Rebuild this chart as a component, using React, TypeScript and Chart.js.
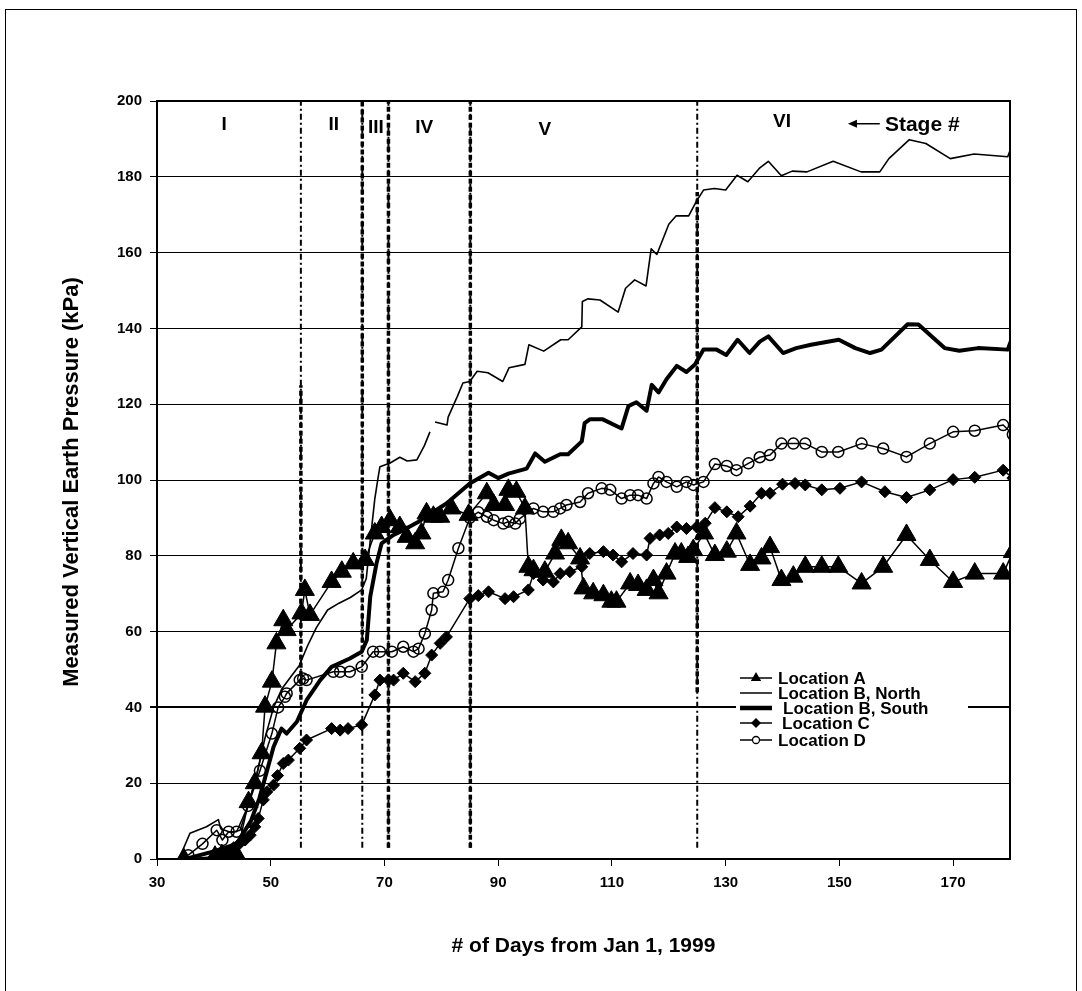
import React, { useEffect, useRef } from 'react';
import { Chart, registerables } from 'chart.js';
Chart.register(...registerables);

const FONT = '"Liberation Sans", Arial, Helvetica, sans-serif';

// ---- axes ----
const xTickValues = [30, 50, 70, 90, 110, 130, 150, 170];
const xMin = 30;
const xMax = 180;
const yMin = 0;
const yMax = 200;
const yStep = 20;

// ---- Location A (triangles) ----
const locADays = [34.7, 40.2, 41.4, 42.6, 44, 46.1, 47.2, 48.4, 49, 50.2, 51, 52.2, 52.8, 55.4, 56, 56.9, 60.7, 62.5, 64.5, 66.6, 68.3, 69.5, 71, 72.7, 73.9, 75.4, 76.5, 77.4, 78.6, 79.8, 81.8, 84.8, 88, 89.2, 91.2, 91.8, 93.2, 94.7, 95.3, 96.2, 98.2, 100, 101.1, 102.3, 104.4, 105, 106.7, 108.5, 109.9, 110.8, 113.2, 114.6, 116.1, 117.3, 118.2, 119.6, 121.1, 122.2, 123.4, 124.3, 126.2, 128.1, 130.2, 131.9, 134.3, 136.3, 137.8, 139.8, 141.9, 144, 146.9, 149.8, 153.9, 157.7, 161.8, 165.9, 170, 173.8, 178.8, 180.5];
const locAKpa = [0, 0.6, 1, 0.6, 1, 15, 20, 27.9, 40.2, 46.8, 56.9, 63, 60.4, 64.8, 71, 64.4, 73.1, 75.8, 78, 78.9, 85.9, 87.6, 89.4, 87.6, 85, 83.3, 85.9, 91.2, 90.3, 90.3, 92.5, 90.8, 96.5, 93.4, 93.4, 97.4, 96.9, 92.5, 77.1, 76.2, 75.8, 80.6, 84.2, 83.3, 79.3, 71.4, 70.1, 69.6, 67.9, 67.9, 72.7, 72.3, 71, 73.6, 70.1, 75.3, 80.6, 80.6, 79.7, 81.5, 85.9, 80.2, 81.1, 85.9, 77.6, 79.3, 82.3, 73.6, 74.5, 77.1, 77.1, 77.1, 72.7, 77.1, 85.5, 78.9, 73.1, 75.3, 75.3, 81];

// ---- Location B, North (thin line) ----
const locBNDays = [34, 35.8, 38.7, 40.8, 41.2, 43, 44.6, 46, 47.5, 49, 50.5, 52, 53.5, 55, 56.4, 58, 60, 62, 64, 66, 66.8, 67.5, 68.3, 68.9, 69.2, 71, 72.7, 74, 75.7, 77, 78, 78.4, 78.9, 81, 81.2, 82.8, 83.8, 85, 86.3, 88.2, 90.8, 91.9, 94.7, 95.4, 98, 101, 102.3, 104.7, 104.8, 105.8, 107.9, 111.1, 112.4, 114, 116, 116.9, 117.9, 120, 121.3, 123.5, 124.8, 126.1, 128, 130, 132, 133.9, 135.9, 137.5, 139.8, 141.7, 144.3, 148.9, 153.8, 157.1, 158.7, 162.3, 165.2, 169.5, 173.7, 179.6, 180.5];
const locBNKpa = [0.5, 6.8, 8.5, 10.4, 8, 7, 7.6, 14, 22, 32, 40, 45, 48, 51, 56, 61, 65.7, 67.5, 69, 71, 74, 84, 95, 100.8, 103.5, 104.5, 106, 105, 105.3, 109, 112.7, null, 115.3, 114.5, 116.6, 122, 125.6, 126, 128.7, 128.3, 126, 129.6, 130.5, 135.7, 134, 137, 137, 140.4, 147.1, 147.8, 147.5, 144.3, 150.6, 152.8, 151.2, 161, 159.5, 167.5, 169.7, 169.7, 173.4, 176.5, 176.9, 176.5, 180.4, 178.7, 182.2, 184.1, 180.3, 181.5, 181.3, 184.1, 181.3, 181.3, 184.8, 189.8, 188.8, 184.8, 186, 185.3, 189];

// ---- Location B, South (thick line) ----
const locBSDays = [35, 40, 44, 46.5, 48, 49, 50.5, 51.9, 52.8, 54.6, 56.3, 58.7, 60.7, 63.9, 66, 66.9, 67.5, 68.6, 69.5, 71.6, 72.7, 76, 78.5, 80.9, 85, 88.3, 90, 91.8, 95, 96.5, 98.2, 100.9, 102.3, 104.7, 105.2, 106.1, 108.4, 111.7, 112.9, 114.3, 116.1, 117, 118.2, 119.6, 121.4, 123.1, 124.6, 126.1, 128.4, 130.1, 132.1, 134.2, 136, 137.5, 140.1, 142.4, 145, 149.9, 152.8, 155.4, 157.4, 162, 163.9, 168.5, 171.1, 174.4, 179.6, 180.5];
const locBSKpa = [0, 2, 4, 10, 16, 21.4, 29.6, 34.4, 33.1, 36.2, 41.9, 47.2, 50.7, 52.9, 54.7, 57.8, 69.2, 78, 83.3, 85.5, 86.3, 89, 91.5, 93.8, 99.1, 101.9, 100.5, 101.7, 103, 107, 104.8, 106.8, 106.8, 110.2, 115, 116, 116, 113.6, 119.5, 120.5, 118.3, 125.1, 123.1, 126.6, 130.1, 128.5, 130.5, 134.4, 134.4, 133, 137, 133.5, 136.5, 137.9, 133.5, 134.8, 135.7, 137, 134.8, 133.5, 134.4, 141.1, 141, 134.8, 134.1, 134.8, 134.4, 138];

// ---- Location C (diamonds) ----
const locCDays = [40, 42, 43.5, 44.5, 45.5, 46.4, 47.2, 47.8, 48.7, 49.3, 50.5, 51.2, 52.2, 53.1, 55.1, 56.3, 60.7, 62.2, 63.6, 66, 68.3, 69.2, 70.7, 71.6, 73.3, 75.4, 77.1, 78.3, 79.8, 80.9, 85, 86.5, 88.3, 91.2, 92.7, 95.3, 96.2, 97.9, 99.7, 100.9, 102.6, 104.7, 106.1, 108.5, 110.2, 111.7, 113.7, 116.1, 116.7, 118.4, 119.9, 121.4, 123.1, 124.9, 126.4, 128.1, 130.2, 132.2, 134.3, 136.3, 137.8, 140, 142.2, 144, 146.9, 150.1, 153.9, 158, 161.8, 165.9, 170, 173.8, 178.8, 180.5];
const locCKpa = [0.5, 1, 3, 4, 5, 6.3, 8.5, 10.7, 15.6, 17.7, 19.5, 22, 25.2, 26.1, 29.2, 31.4, 34.4, 34, 34.4, 35.4, 43.3, 47.2, 47.2, 47.2, 49, 46.8, 49, 53.8, 56.9, 58.6, 68.7, 69.5, 70.5, 68.7, 69.2, 71, 75.3, 73.6, 73.1, 75.3, 75.8, 77.1, 80.6, 81.1, 80.2, 78.4, 80.6, 80.2, 84.6, 85.5, 85.9, 87.6, 87.2, 87.6, 88.6, 92.7, 91.6, 90.3, 93.1, 96.5, 96.5, 98.9, 99.1, 98.7, 97.4, 97.8, 99.5, 96.9, 95.4, 97.4, 100.1, 100.7, 102.6, 100.5];

// ---- Location D (open circles) ----
const locDDays = [35.5, 38, 40.5, 41.5, 42.6, 44, 46, 48.1, 50.2, 51.3, 52.5, 52.8, 55.1, 55.7, 56.3, 61, 62.2, 63.9, 66, 68, 69.2, 71.3, 73.3, 75.1, 76, 77.1, 78.3, 78.6, 80.3, 81.2, 83, 85, 86.5, 88, 89.2, 90.9, 91.8, 93, 93.8, 96.2, 97.9, 99.7, 100.9, 102, 104.4, 105.8, 108.2, 109.7, 111.7, 113.2, 114.6, 116.1, 117.3, 118.2, 119.6, 121.4, 123.1, 124.3, 126.1, 128.1, 130.2, 131.9, 134, 136, 137.8, 139.8, 141.9, 144, 146.9, 149.8, 153.9, 157.7, 161.8, 165.9, 170, 173.8, 178.8, 180.5];
const locDKpa = [1, 4, 7.6, 5, 7.2, 7.2, 14, 23.3, 33.1, 40, 42.8, 43.7, 47.2, 47.6, 47.2, 49.4, 49.4, 49.4, 50.7, 54.7, 54.7, 54.7, 56, 54.7, 55.5, 59.5, 65.7, 70.1, 70.5, 73.6, 82, 90, 91.5, 90.3, 89.4, 88.5, 89, 88.5, 89.8, 92.5, 91.6, 91.6, 92.5, 93.4, 94.2, 96.5, 97.8, 97.4, 95.1, 96, 96, 95.1, 99.1, 100.8, 99.5, 98.2, 99.5, 98.7, 99.5, 104.2, 103.7, 102.6, 104.4, 106, 106.6, 109.6, 109.6, 109.6, 107.4, 107.4, 109.6, 108.3, 106.1, 109.6, 112.7, 113, 114.5, 112];

// ---- stages ----
const stageNames = ['I', 'II', 'III', 'IV', 'V', 'VI'];
const stageNameDays = [41.8, 61.1, 68.5, 77, 98.2, 139.9];
const stageNameKpa = [193.7, 193.7, 192.9, 192.9, 192.3, 194.5];
const stageBoundaryDays = [55.3, 66.1, 70.7, 85.1, 125];
const stageBoundaryBottom = 3;
// heavy dashed parts of the boundaries: [day, fromKpa, toKpa]
const stageHeavyParts = [
  [55.3, 42, 125],
  [66.1, 55, 200],
  [70.7, 3, 200],
  [85.1, 3, 200],
  [125, 44, 176],
];
const stageArrowFrom = 157.1;
const stageArrowTo = 151.5;
const stageArrowKpa = 194;
const stageNoteText = 'Stage #';
const stageNoteDay = 158;

const legendNames = ['Location A', 'Location B, North', 'Location B, South', 'Location C', 'Location D'];

const xTitle = '# of Days from Jan 1, 1999';
const yTitle = 'Measured Vertical Earth Pressure (kPa)';

function pts(days: number[], kpa: (number | null)[]) {
  return days.map((d, i) => ({ x: d, y: kpa[i] }));
}

function drawMarker(ctx: CanvasRenderingContext2D, style: string, x: number, y: number, r: number) {
  ctx.beginPath();
  if (style === 'triangle') {
    ctx.moveTo(x, y - r);
    ctx.lineTo(x + r * 0.866, y + r / 2);
    ctx.lineTo(x - r * 0.866, y + r / 2);
    ctx.closePath();
    ctx.fillStyle = '#000';
    ctx.fill();
  } else if (style === 'diamond') {
    ctx.moveTo(x - r, y);
    ctx.lineTo(x, y - r);
    ctx.lineTo(x + r, y);
    ctx.lineTo(x, y + r);
    ctx.closePath();
    ctx.fillStyle = '#000';
    ctx.fill();
  } else if (style === 'circle') {
    ctx.arc(x, y, r, 0, Math.PI * 2);
    ctx.fillStyle = '#fff';
    ctx.fill();
    ctx.lineWidth = 1.3;
    ctx.strokeStyle = '#000';
    ctx.stroke();
  }
}

const decorPlugin = {
  id: 'decor',
  beforeDraw(chart: any) {
    const ctx = chart.ctx as CanvasRenderingContext2D;
    ctx.save();
    ctx.fillStyle = '#fff';
    ctx.fillRect(0, 0, chart.width, chart.height);
    ctx.restore();
  },
  afterDraw(chart: any) {
    const ctx = chart.ctx as CanvasRenderingContext2D;
    const ca = chart.chartArea;
    const xs = chart.scales.x;
    const ys = chart.scales.y;
    ctx.save();

    // legend (white box over the grid)
    const lx = 736, ly = 670, lw = 232, lh = 78;
    ctx.fillStyle = '#fff';
    ctx.fillRect(lx, ly, lw, lh);
    const rows = [678, 693, 708, 723, 740];
    const textX = [778, 778, 783, 782, 778];
    const styles = ['triangle', 'none', 'none', 'diamond', 'circle'];
    const widths = [1.5, 1.5, 4.5, 1.5, 1.5];
    const sizes = [6, 0, 0, 5, 3.5];
    legendNames.forEach((name, i) => {
      ctx.strokeStyle = '#000';
      ctx.lineWidth = widths[i];
      ctx.beginPath();
      ctx.moveTo(740, rows[i]);
      ctx.lineTo(772, rows[i]);
      ctx.stroke();
      if (styles[i] !== 'none') drawMarker(ctx, styles[i], 756, rows[i], sizes[i]);
      ctx.fillStyle = '#000';
      ctx.font = `bold 17px ${FONT}`;
      ctx.textAlign = 'left';
      ctx.textBaseline = 'middle';
      ctx.fillText(name, textX[i], rows[i] + 1);
    });

    // plot frame
    ctx.strokeStyle = '#000';
    ctx.lineWidth = 2;
    ctx.strokeRect(ca.left, ca.top, ca.right - ca.left, ca.bottom - ca.top);

    // outer border
    ctx.lineWidth = 1;
    ctx.strokeRect(5.5, 9.5, 1071, 1000);

    // stage names
    ctx.fillStyle = '#000';
    ctx.font = `bold 19px ${FONT}`;
    ctx.textAlign = 'center';
    ctx.textBaseline = 'middle';
    stageNames.forEach((s, i) => {
      ctx.fillText(s, xs.getPixelForValue(stageNameDays[i]), ys.getPixelForValue(stageNameKpa[i]));
    });
    // arrow + note
    const ay = ys.getPixelForValue(stageArrowKpa);
    const ax0 = xs.getPixelForValue(stageArrowFrom);
    const ax1 = xs.getPixelForValue(stageArrowTo);
    ctx.lineWidth = 1.5;
    ctx.beginPath();
    ctx.moveTo(ax0, ay);
    ctx.lineTo(ax1 + 6, ay);
    ctx.stroke();
    ctx.beginPath();
    ctx.moveTo(ax1, ay);
    ctx.lineTo(ax1 + 9, ay - 4);
    ctx.lineTo(ax1 + 9, ay + 4);
    ctx.closePath();
    ctx.fill();
    ctx.textAlign = 'left';
    ctx.font = `bold 21px ${FONT}`;
    ctx.fillText(stageNoteText, xs.getPixelForValue(stageNoteDay), ay + 1);

    // axis titles
    ctx.font = `bold 21px ${FONT}`;
    ctx.textAlign = 'center';
    ctx.textBaseline = 'middle';
    ctx.fillText(xTitle, (ca.left + ca.right) / 2, 946);
    ctx.save();
    ctx.translate(72, 482);
    ctx.rotate(-Math.PI / 2);
    ctx.font = `bold 22px ${FONT}`;
    ctx.fillText(yTitle, 0, 0);
    ctx.restore();

    ctx.restore();
  },
};

export default function App() {
  const ref = useRef<HTMLCanvasElement | null>(null);
  useEffect(() => {
    if (!ref.current) return;
    const series: any[] = [
      {
        label: legendNames[0], data: pts(locADays, locAKpa), borderColor: '#000', borderWidth: 1.5,
        pointStyle: 'triangle', pointRadius: 11, pointBackgroundColor: '#000', pointBorderColor: '#000', pointBorderWidth: 1,
      },
      { label: legendNames[1], data: pts(locBNDays, locBNKpa), borderColor: '#000', borderWidth: 1.6, pointRadius: 0 },
      { label: legendNames[2], data: pts(locBSDays, locBSKpa), borderColor: '#000', borderWidth: 4, pointRadius: 0 },
      {
        label: legendNames[3], data: pts(locCDays, locCKpa), borderColor: '#000', borderWidth: 1.5,
        pointStyle: 'rectRot', pointRadius: 6, pointBackgroundColor: '#000', pointBorderColor: '#000', pointBorderWidth: 1,
      },
      {
        label: legendNames[4], data: pts(locDDays, locDKpa), borderColor: '#000', borderWidth: 1.5,
        pointStyle: 'circle', pointRadius: 5.5, pointBackgroundColor: 'rgba(0,0,0,0)', pointBorderColor: '#000', pointBorderWidth: 1.5,
      },
    ];
    const stageThin = stageBoundaryDays.map((d) => ({
      label: 'stage', data: [{ x: d, y: stageBoundaryBottom }, { x: d, y: yMax }],
      borderColor: '#000', borderWidth: 2, borderDash: [6, 3, 2, 3], pointRadius: 0,
    }));
    const stageHeavy = stageHeavyParts.map(([d, a, b]) => ({
      label: 'stage', data: [{ x: d, y: a }, { x: d, y: b }],
      borderColor: '#000', borderWidth: 3.5, borderDash: [5, 3], pointRadius: 0, borderCapStyle: 'butt',
    }));
    const datasets = [...series, ...stageHeavy, ...stageThin].map((ds) => ({
      tension: 0, spanGaps: false, fill: false, borderJoinStyle: 'round', ...ds,
    }));

    const chart = new Chart(ref.current, {
      type: 'line',
      data: { datasets },
      options: {
        animation: false,
        responsive: false,
        devicePixelRatio: 1,
        events: [],
        layout: { padding: { left: 0, top: 101, right: 72, bottom: 0 } },
        plugins: { legend: { display: false }, tooltip: { enabled: false }, title: { display: false } },
        scales: {
          x: {
            type: 'linear', min: xMin, max: xMax,
            afterBuildTicks: (scale: any) => { scale.ticks = xTickValues.map((v) => ({ value: v })); },
            afterFit: (scale: any) => { scale.height = 132; },
            grid: { drawOnChartArea: false, drawTicks: true, tickLength: 7, color: '#000', lineWidth: 1 },
            border: { display: true, color: '#000', width: 2 },
            ticks: { color: '#000', font: { family: FONT, size: 15, weight: 'bold' }, padding: 8, maxRotation: 0, autoSkip: false },
          },
          y: {
            type: 'linear', min: yMin, max: yMax,
            afterFit: (scale: any) => { scale.width = 157; },
            grid: {
              color: '#000', tickLength: 7, drawTicks: true,
              lineWidth: (c: any) => (c.tick && c.tick.value === 40 ? 2 : 1),
            },
            border: { display: true, color: '#000', width: 2 },
            ticks: { stepSize: yStep, color: '#000', font: { family: FONT, size: 15, weight: 'bold' }, padding: 8 },
          },
        },
      } as any,
      plugins: [decorPlugin],
    });
    return () => chart.destroy();
  }, []);
  return (
    <div style={{ position: 'absolute', left: 0, top: 0, width: 1082, height: 991, background: '#fff' }}>
      <canvas ref={ref} width={1082} height={991} style={{ display: 'block', width: 1082, height: 991 }} />
    </div>
  );
}
